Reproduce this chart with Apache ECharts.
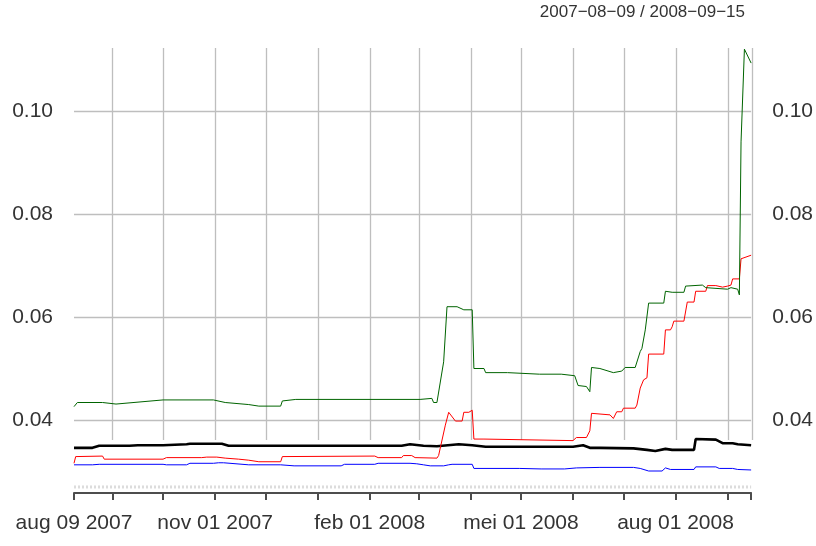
<!DOCTYPE html>
<html>
<head>
<meta charset="utf-8">
<title>2007-08-09 / 2008-09-15</title>
<script src="https://cdn.jsdelivr.net/npm/echarts@6/dist/echarts.min.js"></script>
<style>
    html, body { margin: 0; padding: 0; background: #fff; }
    #main { width: 816px; height: 546px; }
</style>
</head>
<body>
<div id="main"></div>
<script>
    // tijdas: begin/eind, maandticks en gelabelde datums
    var startDate = '2007-08-09';
    var endDate = '2008-09-15';
    var tickDates = ['2007-08-09', '2007-09-01', '2007-10-01', '2007-11-01', '2007-12-01',
        '2008-01-01', '2008-02-01', '2008-03-01', '2008-04-01', '2008-05-01', '2008-06-01',
        '2008-07-01', '2008-08-01', '2008-09-01', '2008-09-15'];
    var gridDates = tickDates.slice(1);
    var labelDates = ['2007-08-09', '2007-11-01', '2008-02-01', '2008-05-01', '2008-08-01'];
    var labelTexts = ['aug 09 2007', 'nov 01 2007', 'feb 01 2008', 'mei 01 2008', 'aug 01 2008'];
    var yTicks = [0.04, 0.06, 0.08, 0.10];
    var yLabels = ['0.04', '0.06', '0.08', '0.10'];
    var yMin = 0.02583, yMax = 0.11223;
    var baseLine = 0.0270;

    // reeksen: [datum, waarde]
    var blackLine = [['2007-08-09',0.0346],['2007-08-20',0.0346],['2007-08-24',0.0350],['2007-09-11',0.0350],
        ['2007-09-16',0.0351],['2007-10-01',0.0351],['2007-10-02',0.0353],['2007-10-15',0.0353],['2007-10-17',0.0354],
        ['2007-11-05',0.0354],['2007-11-09',0.0350],['2008-02-20',0.0350],['2008-02-25',0.0353],['2008-03-04',0.0350],
        ['2008-03-12',0.0349],['2008-03-25',0.0353],['2008-04-02',0.0351],['2008-04-10',0.0348],['2008-06-01',0.0348],
        ['2008-06-07',0.0351],['2008-06-11',0.0346],['2008-06-17',0.0346],['2008-07-07',0.0345],['2008-07-15',0.0342],
        ['2008-07-20',0.0340],['2008-07-26',0.0344],['2008-07-30',0.0342],['2008-08-12',0.0342],['2008-08-13',0.0363],
        ['2008-08-25',0.0362],['2008-08-29',0.0355],['2008-09-04',0.0355],['2008-09-05',0.0356],['2008-09-07',0.0353],
        ['2008-09-15',0.0351]];
    var redLine = [['2007-08-09',0.0316],['2007-08-10',0.0329],['2007-08-26',0.0330],['2007-08-27',0.0324],
        ['2007-10-01',0.0324],['2007-10-03',0.0327],['2007-10-24',0.0327],['2007-10-27',0.0328],['2007-11-02',0.0328],
        ['2007-11-07',0.0326],['2007-11-15',0.0324],['2007-11-21',0.0322],['2007-11-27',0.0319],['2007-12-10',0.0319],
        ['2007-12-11',0.0329],['2008-02-04',0.0330],['2008-02-06',0.0327],['2008-02-20',0.0327],['2008-02-21',0.0331],
        ['2008-02-26',0.0331],['2008-02-28',0.0327],['2008-03-12',0.0326],['2008-03-13',0.0331],['2008-03-17',0.0390],
        ['2008-03-19',0.0415],['2008-03-23',0.0398],['2008-03-27',0.0398],['2008-03-28',0.0415],['2008-03-31',0.0415],
        ['2008-04-02',0.0419],['2008-04-03',0.0363],['2008-04-09',0.0363],['2008-04-10',0.0360],['2008-06-01',0.0360],
        ['2008-06-02',0.0358],['2008-06-03',0.0366],['2008-06-09',0.0366],['2008-06-10',0.0363],['2008-06-11',0.0379],
        ['2008-06-12',0.0413],['2008-06-23',0.0410],['2008-06-25',0.0403],['2008-06-27',0.0416],['2008-06-30',0.0416],
        ['2008-07-01',0.0423],['2008-07-08',0.0423],['2008-07-09',0.0429],['2008-07-11',0.0462],['2008-07-13',0.0478],
        ['2008-07-15',0.0482],['2008-07-16',0.0528],['2008-07-25',0.0528],['2008-07-26',0.0575],['2008-07-29',0.0575],
        ['2008-07-30',0.0581],['2008-07-31',0.0592],['2008-08-06',0.0592],['2008-08-08',0.0629],['2008-08-12',0.0629],
        ['2008-08-13',0.0650],['2008-08-19',0.0650],['2008-08-20',0.0661],['2008-08-25',0.0661],['2008-08-26',0.0658],
        ['2008-08-29',0.0658],['2008-09-01',0.0660],['2008-09-03',0.0662],['2008-09-04',0.0674],['2008-09-08',0.0674],
        ['2008-09-09',0.0713],['2008-09-15',0.0720]];
    var greenLine = [['2007-08-09',0.0426],['2007-08-11',0.0434],['2007-08-26',0.0434],['2007-09-03',0.0431],
        ['2007-10-01',0.0439],['2007-10-31',0.0439],['2007-11-07',0.0434],['2007-11-21',0.0430],['2007-11-27',0.0427],
        ['2007-12-10',0.0427],['2007-12-11',0.0437],['2007-12-19',0.0440],['2008-03-02',0.0440],['2008-03-03',0.0443],
        ['2008-03-09',0.0442],['2008-03-10',0.0434],['2008-03-12',0.0434],['2008-03-13',0.0437],['2008-03-16',0.0513],
        ['2008-03-18',0.0620],['2008-03-24',0.0620],['2008-03-25',0.0623],['2008-03-28',0.0614],['2008-04-02',0.0614],
        ['2008-04-03',0.0500],['2008-04-09',0.0500],['2008-04-10',0.0492],['2008-04-23',0.0492],['2008-04-24',0.0489],
        ['2008-05-12',0.0489],['2008-05-13',0.0491],['2008-05-25',0.0489],['2008-06-02',0.0486],['2008-06-04',0.0467],
        ['2008-06-09',0.0465],['2008-06-11',0.0455],['2008-06-12',0.0502],['2008-06-17',0.0500],['2008-06-18',0.0497],
        ['2008-06-25',0.0492],['2008-06-30',0.0495],['2008-07-02',0.0502],['2008-07-08',0.0502],['2008-07-09',0.0499],
        ['2008-07-11',0.0533],['2008-07-12',0.0539],['2008-07-14',0.0575],['2008-07-16',0.0627],['2008-07-25',0.0627],
        ['2008-07-26',0.0650],['2008-07-30',0.0648],['2008-08-06',0.0648],['2008-08-07',0.0660],['2008-08-17',0.0662],
        ['2008-08-19',0.0657],['2008-09-01',0.0654],['2008-09-03',0.0657],['2008-09-07',0.0654],['2008-09-08',0.0643],
        ['2008-09-09',0.0940],['2008-09-10',0.0940],['2008-09-11',0.1120],['2008-09-15',0.1093]];
    var blueLine = [['2007-08-09',0.0313],['2007-08-20',0.0313],['2007-08-24',0.0314],['2007-10-01',0.0314],
        ['2007-10-03',0.0313],['2007-10-15',0.0313],['2007-10-17',0.0316],['2007-10-31',0.0316],['2007-11-03',0.0317],
        ['2007-11-06',0.0317],['2007-11-07',0.0314],['2007-11-21',0.0313],['2007-12-10',0.0313],['2007-12-18',0.0311],
        ['2008-01-15',0.0311],['2008-01-17',0.0314],['2008-02-04',0.0314],['2008-02-06',0.0316],['2008-02-25',0.0316],
        ['2008-02-29',0.0315],['2008-03-04',0.0313],['2008-03-08',0.0311],['2008-03-16',0.0311],['2008-03-19',0.0313],
        ['2008-03-21',0.0314],['2008-04-02',0.0314],['2008-04-03',0.0306],['2008-04-30',0.0306],['2008-05-13',0.0305],
        ['2008-05-27',0.0305],['2008-06-03',0.0307],['2008-06-17',0.0308],['2008-07-07',0.0308],['2008-07-11',0.0306],
        ['2008-07-16',0.0301],['2008-07-24',0.0301],['2008-07-26',0.0307],['2008-07-29',0.0304],['2008-08-12',0.0304],
        ['2008-08-13',0.0309],['2008-08-25',0.0309],['2008-08-27',0.0306],['2008-09-04',0.0306],['2008-09-05',0.0307],
        ['2008-09-07',0.0304],['2008-09-15',0.0303]];

    function ts(s) {
        var p = s.split('-');
        return new Date(+p[0], +p[1] - 1, +p[2]).getTime();
    }
    function toTs(arr) {
        return arr.map(function (d) { return [ts(d[0]), d[1]]; });
    }
    var labelTs = labelDates.map(ts);

    var font = 'Liberation Sans, Arial, sans-serif';
    var textColor = '#333333';
    var gridColor = '#bebebe';
    var axisColor = '#4d4d4d';

    function plainLine(name, data, color, width) {
        return {
            name: name,
            type: 'line',
            xAxisIndex: 0,
            yAxisIndex: 0,
            data: data,
            showSymbol: false,
            silent: true,
            lineStyle: { color: color, width: width }
        };
    }

    var myChart = echarts.init(document.getElementById('main'));
    var baseSeries = plainLine('basis', [[ts(startDate), baseLine], [ts(endDate), baseLine]], '#dcdcdc', 3);
    baseSeries.lineStyle.type = [2, 2];

    var option = {
        animation: false,
        backgroundColor: '#ffffff',
        title: {
            text: '2007\u221208\u221209 / 2008\u221209\u221215',
            right: 71,
            top: 4,
            padding: 0,
            textStyle: { fontFamily: font, fontSize: 17, fontWeight: 'normal', color: textColor }
        },
        grid: [
            { left: 74, right: 64, top: 48, bottom: 53 },
            { left: 74, right: 64, top: 48, bottom: 106 }
        ],
        // tijdstempels op een waarde-as, zodat eigen tickposities mogelijk zijn
        xAxis: [{
            gridIndex: 0,
            type: 'value',
            min: ts(startDate),
            max: ts(endDate),
            axisLine: { show: true, lineStyle: { color: axisColor, width: 2 } },
            axisTick: { show: true, length: 7, customValues: tickDates.map(ts),
                lineStyle: { color: axisColor, width: 2 } },
            axisLabel: {
                customValues: labelTs,
                formatter: function (v) {
                    var i = labelTs.indexOf(v);
                    return i >= 0 ? labelTexts[i] : '';
                },
                margin: 20, fontSize: 21, fontFamily: font, color: textColor, hideOverlap: false
            },
            splitLine: { show: false }
        }, {
            gridIndex: 1,
            type: 'value',
            min: ts(startDate),
            max: ts(endDate),
            axisLine: { show: false },
            axisTick: { show: false, customValues: gridDates.map(ts) },
            axisLabel: { show: false },
            splitLine: { show: true, lineStyle: { color: gridColor, width: 1.3 } }
        }],
        yAxis: [{
            gridIndex: 0,
            type: 'value',
            position: 'left',
            min: yMin,
            max: yMax,
            axisLine: { show: false },
            axisTick: { show: false, customValues: yTicks },
            axisLabel: {
                customValues: yTicks,
                formatter: function (v) {
                    var i = yTicks.indexOf(v);
                    return i >= 0 ? yLabels[i] : '';
                },
                margin: 21, fontSize: 21, fontFamily: font, color: textColor
            },
            splitLine: { show: true, lineStyle: { color: gridColor, width: 1.3 } }
        }, {
            gridIndex: 0,
            type: 'value',
            position: 'right',
            min: yMin,
            max: yMax,
            axisLine: { show: false },
            axisTick: { show: false, customValues: yTicks },
            axisLabel: {
                customValues: yTicks,
                formatter: function (v) {
                    var i = yTicks.indexOf(v);
                    return i >= 0 ? yLabels[i] : '';
                },
                margin: 21, fontSize: 21, fontFamily: font, color: textColor
            },
            splitLine: { show: false }
        }, {
            gridIndex: 1,
            type: 'value',
            min: yMin,
            max: yMax,
            show: false
        }],
        series: [
            baseSeries,
            plainLine('zwart', toTs(blackLine), '#000000', 2.6),
            plainLine('rood', toTs(redLine), '#ff0000', 1),
            plainLine('groen', toTs(greenLine), '#006400', 1),
            plainLine('blauw', toTs(blueLine), '#0000ff', 1)
        ]
    };
    myChart.setOption(option);
</script>
</body>
</html>
